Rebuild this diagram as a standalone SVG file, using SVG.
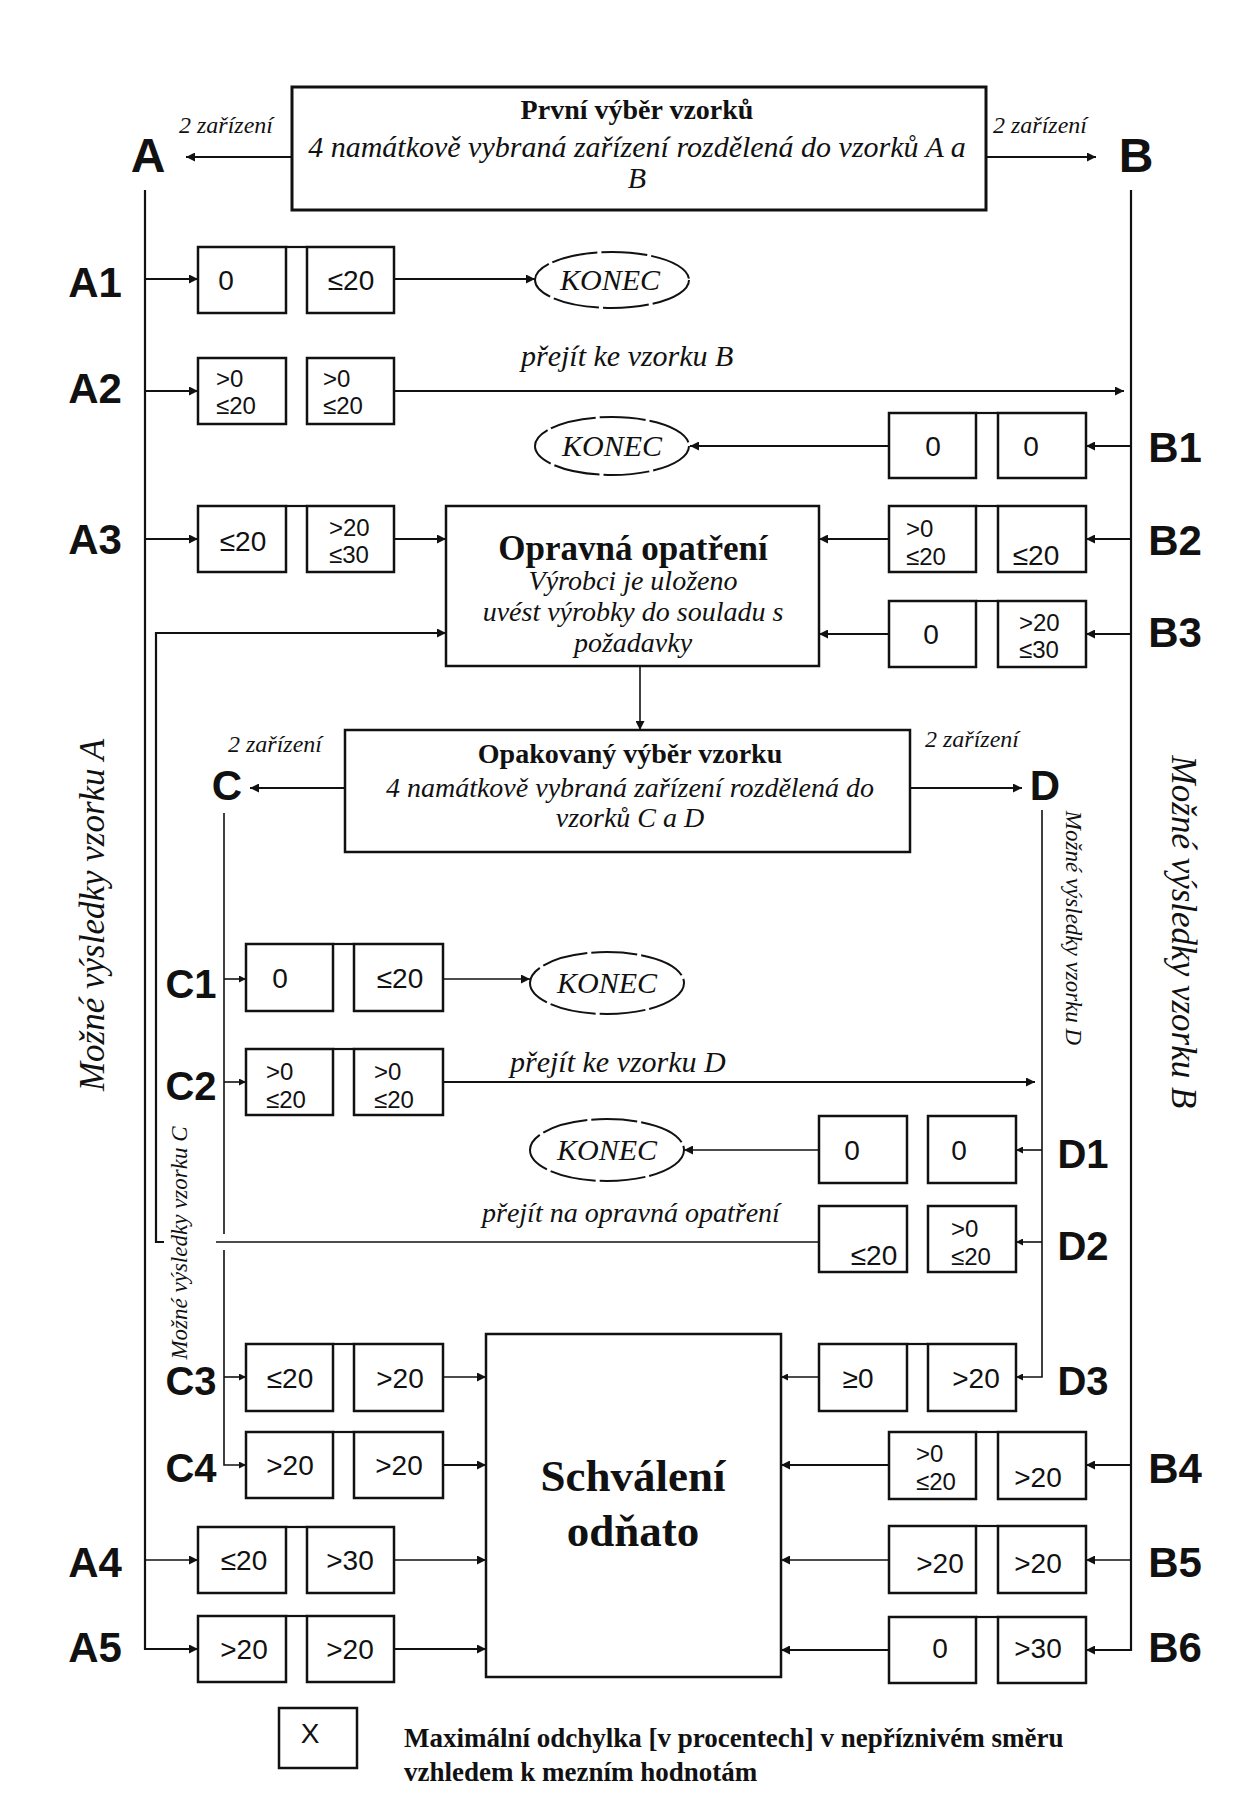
<svg xmlns="http://www.w3.org/2000/svg" width="1256" height="1816" viewBox="0 0 1256 1816">
<defs>
<marker id="a" viewBox="0 0 10 10" refX="10" refY="5" markerWidth="11" markerHeight="9" markerUnits="userSpaceOnUse" orient="auto"><path d="M0,0 L10,5 L0,10 z" fill="#111"/></marker>
<marker id="s" viewBox="0 0 10 10" refX="10" refY="5" markerWidth="8" markerHeight="7" markerUnits="userSpaceOnUse" orient="auto"><path d="M0,0 L10,5 L0,10 z" fill="#111"/></marker>
</defs>
<style>
.bx{fill:#fff;stroke:#111;stroke-width:2.5}
.big{fill:#fff;stroke:#111;stroke-width:2.5}
.ln{fill:none;stroke:#111;stroke-width:2.2}
.th{stroke-width:1.6}
.n{font-family:"Liberation Sans",Arial,sans-serif;font-size:28px;fill:#111}
.n2{font-family:"Liberation Sans",Arial,sans-serif;font-size:24px;fill:#111}
.c{text-anchor:middle}
.lb{font-family:"Liberation Sans",Arial,sans-serif;font-weight:bold;font-size:42px;fill:#111;text-anchor:middle}
.lc{font-size:40px}
.lt{font-size:48px}
.sr{font-family:"Liberation Serif","Times New Roman",serif;fill:#111}
.i{font-style:italic}
.b{font-weight:bold}
</style>
<rect width="1256" height="1816" fill="#fff"/>

<g id="connectors">
<path class="ln" d="M292,157 H186" marker-end="url(#a)"/>
<path class="ln" d="M986,157 H1096" marker-end="url(#a)"/>
<path class="ln" d="M145,190 V1649 H198" marker-end="url(#a)"/>
<path class="ln" d="M145,279 H198" marker-end="url(#a)"/>
<path class="ln" d="M145,391 H198" marker-end="url(#a)"/>
<path class="ln" d="M145,539 H198" marker-end="url(#a)"/>
<path class="ln th" d="M145,1560 H198" marker-end="url(#a)"/>
<path class="ln" d="M394,279 H535" marker-end="url(#a)"/>
<path class="ln" d="M394,391 H1124" marker-end="url(#a)"/>
<path class="ln" d="M394,539 H446" marker-end="url(#a)"/>
<path class="ln th" d="M394,1560 H486" marker-end="url(#a)"/>
<path class="ln" d="M394,1649 H486" marker-end="url(#a)"/>
<path class="ln" d="M1131,190 V1650 H1086" marker-end="url(#a)"/>
<path class="ln" d="M1131,446 H1086" marker-end="url(#a)"/>
<path class="ln" d="M889,446 H690" marker-end="url(#a)"/>
<path class="ln" d="M1131,539 H1086" marker-end="url(#a)"/>
<path class="ln" d="M889,539 H819" marker-end="url(#a)"/>
<path class="ln" d="M1131,634 H1086" marker-end="url(#a)"/>
<path class="ln" d="M889,634 H819" marker-end="url(#a)"/>
<path class="ln" d="M1131,1465 H1086" marker-end="url(#a)"/>
<path class="ln" d="M889,1465 H781" marker-end="url(#a)"/>
<path class="ln th" d="M1131,1560 H1086" marker-end="url(#a)"/>
<path class="ln th" d="M889,1560 H781" marker-end="url(#a)"/>
<path class="ln" d="M889,1650 H781" marker-end="url(#a)"/>
<path class="ln th" d="M640,666 V730" marker-end="url(#a)"/>
<path class="ln" d="M345,788 H250" marker-end="url(#a)"/>
<path class="ln" d="M910,788 H1022" marker-end="url(#a)"/>
<path class="ln th" d="M224,813 V1234"/>
<path class="ln th" d="M224,1250 V1465 H246" marker-end="url(#s)"/>
<path class="ln th" d="M224,979 H246" marker-end="url(#s)"/>
<path class="ln th" d="M443,979 H530" marker-end="url(#a)"/>
<path class="ln th" d="M224,1082 H246" marker-end="url(#s)"/>
<path class="ln" d="M443,1082 H1035" marker-end="url(#a)"/>
<path class="ln th" d="M224,1377 H246" marker-end="url(#s)"/>
<path class="ln th" d="M443,1377 H486" marker-end="url(#a)"/>
<path class="ln" d="M443,1465 H486" marker-end="url(#a)"/>
<path class="ln th" d="M1042,810 V1377 H1016" marker-end="url(#s)"/>
<path class="ln th" d="M1042,1150 H1016" marker-end="url(#s)"/>
<path class="ln th" d="M819,1150 H684" marker-end="url(#a)"/>
<path class="ln th" d="M1042,1242 H1016" marker-end="url(#s)"/>
<path class="ln th" d="M819,1242 H216"/>
<path class="ln" d="M164,1242 H156 V633 H446" marker-end="url(#a)"/>
<path class="ln th" d="M819,1377 H781" marker-end="url(#s)"/>
</g>

<g id="first-sampling">
<rect x="292" y="87" width="694" height="123" fill="#fff" stroke="#111" stroke-width="3"/>
<text class="sr b c" x="637" y="119" font-size="28">První výběr vzorků</text>
<text class="sr i c" x="637" y="157" font-size="30">4 namátkově vybraná zařízení rozdělená do vzorků A a</text>
<text class="sr i c" x="637" y="188" font-size="30">B</text>
</g>
<g id="sample-A"><text class="lb lt" x="148" y="172">A</text><text class="sr i c" x="226" y="133" font-size="24">2 zařízení</text></g>
<g id="sample-B"><text class="lb lt" x="1136" y="172">B</text><text class="sr i c" x="1040" y="133" font-size="24">2 zařízení</text></g>

<g id="A1"><text class="lb" x="95" y="297">A1</text>
<rect class="bx" x="198" y="247" width="88" height="66"/><rect class="bx" x="307" y="247" width="87" height="66"/><line class="ln" x1="286" y1="247" x2="307" y2="247"/>
<text class="n c" x="226" y="290">0</text><text class="n c" x="351" y="290">≤20</text></g>
<g id="end1"><ellipse cx="612" cy="280" rx="77" ry="28" fill="#fff" stroke="#111" stroke-width="2" stroke-dasharray="46 4"/><text class="sr i c" x="610" y="290" font-size="30">KONEC</text></g>

<g id="A2"><text class="lb" x="95" y="403">A2</text>
<rect class="bx" x="198" y="358" width="88" height="66"/><rect class="bx" x="307" y="358" width="87" height="66"/>
<text class="n2" x="216" y="387">&gt;0<tspan x="216" dy="27">≤20</tspan></text>
<text class="n2" x="323" y="387">&gt;0<tspan x="323" dy="27">≤20</tspan></text></g>
<text class="sr i" x="521" y="366" font-size="30">přejít ke vzorku B</text>

<g id="B1"><text class="lb" x="1175" y="462">B1</text>
<rect class="bx" x="889" y="413" width="87" height="65"/><rect class="bx" x="998" y="413" width="88" height="65"/><line class="ln" x1="976" y1="413" x2="998" y2="413"/>
<text class="n c" x="933" y="456">0</text><text class="n c" x="1031" y="456">0</text></g>
<g id="end2"><ellipse cx="612" cy="446" rx="77" ry="29" fill="#fff" stroke="#111" stroke-width="2" stroke-dasharray="46 4"/><text class="sr i c" x="612" y="456" font-size="30">KONEC</text></g>

<g id="A3"><text class="lb" x="95" y="554">A3</text>
<rect class="bx" x="198" y="506" width="88" height="66"/><rect class="bx" x="307" y="506" width="87" height="66"/><line class="ln" x1="286" y1="506" x2="307" y2="506"/>
<text class="n c" x="243" y="551">≤20</text>
<text class="n2" x="329" y="536">&gt;20<tspan x="329" dy="27">≤30</tspan></text></g>

<g id="B2"><text class="lb" x="1175" y="555">B2</text>
<rect class="bx" x="889" y="506" width="87" height="66"/><rect class="bx" x="998" y="506" width="88" height="66"/><line class="ln" x1="976" y1="506" x2="998" y2="506"/>
<text class="n2" x="906" y="537">&gt;0<tspan x="906" dy="28">≤20</tspan></text>
<text class="n c" x="1036" y="565">≤20</text></g>

<g id="B3"><text class="lb" x="1175" y="647">B3</text>
<rect class="bx" x="889" y="601" width="87" height="66"/><rect class="bx" x="998" y="601" width="88" height="66"/><line class="ln" x1="976" y1="601" x2="998" y2="601"/>
<text class="n c" x="931" y="644">0</text>
<text class="n2" x="1019" y="631">&gt;20<tspan x="1019" dy="27">≤30</tspan></text></g>

<g id="corrective-action">
<rect class="big" x="446" y="506" width="373" height="160"/>
<text class="sr b c" x="633" y="560" font-size="35">Opravná opatření</text>
<text class="sr i c" x="633" y="590" font-size="28">Výrobci je uloženo</text>
<text class="sr i c" x="633" y="621" font-size="28">uvést výrobky do souladu s</text>
<text class="sr i c" x="633" y="652" font-size="28">požadavky</text>
</g>

<g id="repeat-sampling">
<rect class="big" x="345" y="730" width="565" height="122"/>
<text class="sr b c" x="630" y="763" font-size="28">Opakovaný výběr vzorku</text>
<text class="sr i c" x="630" y="797" font-size="28">4 namátkově vybraná zařízení rozdělená do</text>
<text class="sr i c" x="630" y="827" font-size="28">vzorků C a D</text>
</g>
<g id="sample-C"><text class="lb" x="227" y="800" font-size="46">C</text><text class="sr i c" x="275" y="752" font-size="24">2 zařízení</text></g>
<g id="sample-D"><text class="lb" x="1045" y="800" font-size="46">D</text><text class="sr i c" x="972" y="747" font-size="24">2 zařízení</text></g>

<text class="sr i c" transform="translate(104,915) rotate(-90)" font-size="35">Možné výsledky vzorku A</text>
<text class="sr i c" transform="translate(1172,932) rotate(90)" font-size="35">Možné výsledky vzorku B</text>
<text class="sr i c" transform="translate(1066,928) rotate(90)" font-size="23">Možné výsledky vzorku D</text>
<text class="sr i c" transform="translate(187,1243) rotate(-90)" font-size="23">Možné výsledky vzorku C</text>

<g id="C1"><text class="lb lc" x="191" y="998">C1</text>
<rect class="bx" x="246" y="944" width="87" height="67"/><rect class="bx" x="354" y="944" width="89" height="67"/><line class="ln" x1="333" y1="944" x2="354" y2="944"/>
<text class="n c" x="280" y="988">0</text><text class="n c" x="400" y="988">≤20</text></g>
<g id="end3"><ellipse cx="607" cy="983" rx="77" ry="31" fill="#fff" stroke="#111" stroke-width="2" stroke-dasharray="46 4"/><text class="sr i c" x="607" y="993" font-size="30">KONEC</text></g>

<g id="C2"><text class="lb lc" x="191" y="1100">C2</text>
<rect class="bx" x="246" y="1049" width="87" height="66"/><rect class="bx" x="354" y="1049" width="89" height="66"/><line class="ln" x1="333" y1="1049" x2="354" y2="1049"/>
<text class="n2" x="266" y="1080">&gt;0<tspan x="266" dy="28">≤20</tspan></text>
<text class="n2" x="374" y="1080">&gt;0<tspan x="374" dy="28">≤20</tspan></text></g>
<text class="sr i" x="510" y="1072" font-size="30">přejít ke vzorku D</text>

<g id="D1"><text class="lb lc" x="1083" y="1168">D1</text>
<rect class="bx" x="819" y="1116" width="88" height="67"/><rect class="bx" x="928" y="1116" width="88" height="67"/>
<text class="n c" x="852" y="1160">0</text><text class="n c" x="959" y="1160">0</text></g>
<g id="end4"><ellipse cx="607" cy="1150" rx="77" ry="31" fill="#fff" stroke="#111" stroke-width="2" stroke-dasharray="46 4"/><text class="sr i c" x="607" y="1160" font-size="30">KONEC</text></g>

<text class="sr i" x="482" y="1222" font-size="28">přejít na opravná opatření</text>
<g id="D2"><text class="lb lc" x="1083" y="1260">D2</text>
<rect class="bx" x="819" y="1206" width="88" height="66"/><rect class="bx" x="928" y="1206" width="88" height="66"/>
<text class="n c" x="874" y="1265">≤20</text>
<text class="n2" x="951" y="1237">&gt;0<tspan x="951" dy="28">≤20</tspan></text></g>

<g id="C3"><text class="lb lc" x="191" y="1395">C3</text>
<rect class="bx" x="246" y="1344" width="87" height="67"/><rect class="bx" x="354" y="1344" width="89" height="67"/><line class="ln" x1="333" y1="1344" x2="354" y2="1344"/>
<text class="n c" x="290" y="1388">≤20</text><text class="n c" x="400" y="1388">&gt;20</text></g>

<g id="D3"><text class="lb lc" x="1083" y="1395">D3</text>
<rect class="bx" x="819" y="1344" width="88" height="67"/><rect class="bx" x="928" y="1344" width="88" height="67"/><line class="ln" x1="907" y1="1344" x2="928" y2="1344"/>
<text class="n c" x="858" y="1388">≥0</text><text class="n c" x="976" y="1388">&gt;20</text></g>

<g id="C4"><text class="lb lc" x="191" y="1482">C4</text>
<rect class="bx" x="246" y="1432" width="87" height="66"/><rect class="bx" x="354" y="1432" width="89" height="66"/><line class="ln" x1="333" y1="1432" x2="354" y2="1432"/>
<text class="n c" x="290" y="1475">&gt;20</text><text class="n c" x="399" y="1475">&gt;20</text></g>

<g id="B4"><text class="lb" x="1175" y="1483">B4</text>
<rect class="bx" x="889" y="1432" width="87" height="67"/><rect class="bx" x="998" y="1432" width="88" height="67"/><line class="ln" x1="976" y1="1432" x2="998" y2="1432"/>
<text class="n2" x="916" y="1462">&gt;0<tspan x="916" dy="28">≤20</tspan></text>
<text class="n c" x="1038" y="1487">&gt;20</text></g>

<g id="A4"><text class="lb" x="95" y="1577">A4</text>
<rect class="bx" x="198" y="1527" width="88" height="66"/><rect class="bx" x="307" y="1527" width="87" height="66"/><line class="ln" x1="286" y1="1527" x2="307" y2="1527"/>
<text class="n c" x="244" y="1570">≤20</text><text class="n c" x="350" y="1570">&gt;30</text></g>

<g id="B5"><text class="lb" x="1175" y="1577">B5</text>
<rect class="bx" x="889" y="1526" width="87" height="67"/><rect class="bx" x="998" y="1526" width="88" height="67"/><line class="ln" x1="976" y1="1526" x2="998" y2="1526"/>
<text class="n c" x="940" y="1573">&gt;20</text><text class="n c" x="1038" y="1573">&gt;20</text></g>

<g id="A5"><text class="lb" x="95" y="1662">A5</text>
<rect class="bx" x="198" y="1616" width="88" height="66"/><rect class="bx" x="307" y="1616" width="87" height="66"/><line class="ln" x1="286" y1="1616" x2="307" y2="1616"/>
<text class="n c" x="244" y="1659">&gt;20</text><text class="n c" x="350" y="1659">&gt;20</text></g>

<g id="B6"><text class="lb" x="1175" y="1662">B6</text>
<rect class="bx" x="889" y="1617" width="87" height="66"/><rect class="bx" x="998" y="1617" width="88" height="66"/><line class="ln" x1="976" y1="1617" x2="998" y2="1617"/>
<text class="n c" x="940" y="1658">0</text><text class="n c" x="1038" y="1658">&gt;30</text></g>

<g id="approval-withdrawn">
<rect class="big" x="486" y="1334" width="295" height="343" stroke-width="2"/>
<text class="sr b c" x="633" y="1491" font-size="45">Schválení</text>
<text class="sr b c" x="633" y="1546" font-size="45">odňato</text>
</g>

<g id="legend">
<rect class="bx" x="279" y="1708" width="78" height="60"/>
<text class="n c" x="310" y="1743">X</text>
<text class="sr b" x="404" y="1747" font-size="27">Maximální odchylka [v procentech] v nepříznivém směru</text>
<text class="sr b" x="404" y="1781" font-size="27">vzhledem k mezním hodnotám</text>
</g>
</svg>
